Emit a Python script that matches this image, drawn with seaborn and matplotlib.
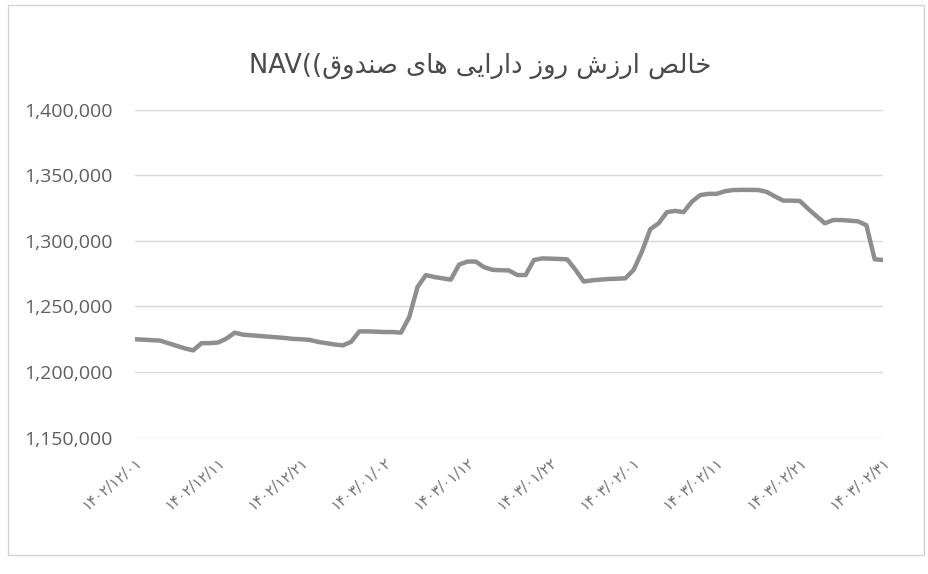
import matplotlib
matplotlib.use("Agg")
import matplotlib.pyplot as plt
import seaborn as sns
import pandas as pd
from matplotlib.patches import Rectangle
from matplotlib.ticker import FuncFormatter

# daily dates 1402/12/01 .. 1403/02/31 (Esfand 29 days, Farvardin 31, Ordibehesht 31)
fa = str.maketrans("0123456789", "۰۱۲۳۴۵۶۷۸۹")
months = [("1402/12", 29), ("1403/01", 31), ("1403/02", 31)]
dates = []
for ym, n in months:
    for d in range(1, n + 1):
        dates.append(f"{ym}/{d:02d}".translate(fa))

nav = [
    1225000, 1224700, 1224300, 1224000, 1222000, 1220000, 1218000, 1216500, 1222000, 1222000,
    1222500, 1225500, 1230000, 1228500, 1228000, 1227500, 1227000, 1226500, 1226000, 1225300,
    1225000, 1224500, 1223000, 1222000, 1221000, 1220300, 1223000, 1231000, 1231000, 1230800,
    1230500, 1230500, 1230000, 1242000, 1265000, 1274000, 1272500, 1271500, 1270500, 1282000,
    1284300, 1284300, 1280000, 1278000, 1277700, 1277500, 1274000, 1274000, 1285500, 1286700,
    1286500, 1286300, 1286000, 1278000, 1269000, 1270000, 1270500, 1271000, 1271200, 1271500,
    1278000, 1292000, 1309000, 1313500, 1322000, 1323000, 1322000, 1330000, 1335000, 1336000,
    1336000, 1338000, 1338900, 1339000, 1339000, 1338900, 1337500, 1334000, 1330800, 1330800,
    1330500, 1324500, 1319000, 1313500, 1316000, 1316000, 1315500, 1315000, 1312000, 1286000,
    1285500,
]

y_ticks = [1150000, 1200000, 1250000, 1300000, 1350000, 1400000]

# title already in visual order with Arabic presentation forms (matplotlib has no shaping/bidi)
words = [
    "\uFEBA\uFEDF\uFE8E\uFEA7",              # خالص
    "\uFEB5\uFEAF\uFEAD\uFE8D",              # ارزش
    "\uFEAF\uFEED\uFEAD",                    # روز
    "\uFEF0\uFEF3\uFE8D\uFEAD\uFE8D\uFEA9",  # دارایی
    "\uFEEF\uFE8E\uFEEB",                    # های
    "\uFED5\uFEED\uFEAA\uFEE8\uFEBB",        # صندوق
]
title = "NAV((" + " ".join(reversed(words))

df = pd.DataFrame({"i": range(len(nav)), "nav": nav})

fig = plt.figure(figsize=(9.29, 5.74), dpi=100)
ax = fig.add_axes([0.1453, 0.2378, 0.8052, 0.5706])

sns.lineplot(data=df, x="i", y="nav", ax=ax, color="#8e8e8e", linewidth=3.2)

ax.set_xlim(0, len(nav) - 1)
ax.set_ylim(1150000, 1400000)
ax.set_yticks(y_ticks)
ax.yaxis.set_major_formatter(FuncFormatter(lambda v, p: f"{int(v):,}"))
ax.grid(axis="y", color="#d9d9d9", linewidth=1)
ax.set_axisbelow(True)
for s in ax.spines.values():
    s.set_visible(False)
ax.set_xlabel("")
ax.set_ylabel("")

tick_idx = list(range(0, len(nav), 10))
ax.set_xticks(tick_idx)
ax.set_xticklabels([dates[i] for i in tick_idx], rotation=40, ha="right",
                   rotation_mode="anchor", fontsize=10.5, color="#707070",
                   family=["DejaVu Sans"])
ax.tick_params(axis="both", length=0)
ax.tick_params(axis="x", pad=12)
ax.tick_params(axis="y", pad=16, labelsize=14, labelcolor="#5f5f5f")
for lab in ax.get_yticklabels():
    lab.set_family(["Open Sans", "DejaVu Sans"])

fig.text(0.517, 0.885, title, ha="center", va="center", fontsize=18.5,
         color="#4a4a4a", family=["DejaVu Sans"])

fig.patches.append(Rectangle((0.009, 0.033), 0.986, 0.958, transform=fig.transFigure,
                             fill=False, edgecolor="#d4d4d4", linewidth=1))

fig.savefig("out.png", dpi=100, facecolor="white")
